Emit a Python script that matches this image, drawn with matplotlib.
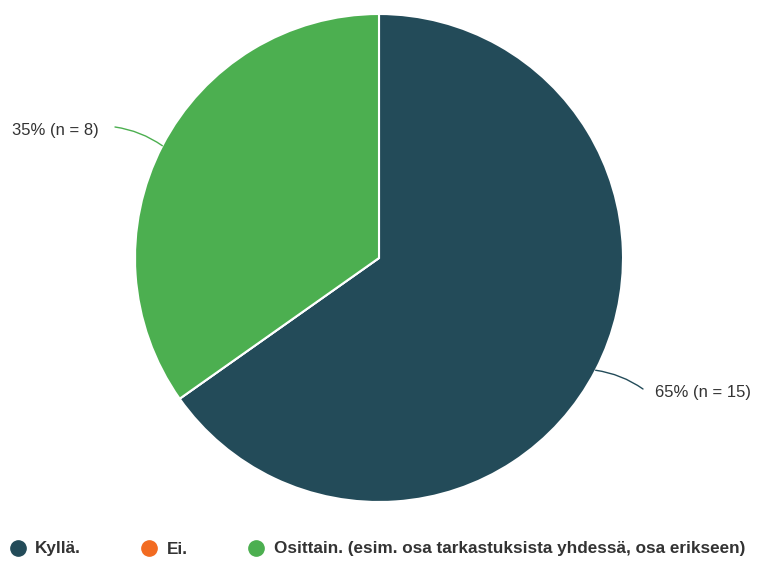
import numpy as np
import matplotlib.pyplot as plt
from matplotlib.lines import Line2D

categories = ["Kyllä.", "Ei.", "Osittain. (esim. osa tarkastuksista yhdessä, osa erikseen)"]
counts = [15, 0, 8]
colors = ["#234b59", "#f26b21", "#4caf50"]

W, H = 757, 562
fig = plt.figure(figsize=(W / 100, H / 100), dpi=100)
plt.rcParams["font.family"] = ["Liberation Sans", "DejaVu Sans"]

# pie area in pixels: centre (379, 258), radius 244
cx, cy, r = 379, 258, 244
ax = fig.add_axes([(cx - r) / W, (H - cy - r) / H, 2 * r / W, 2 * r / H])
ax.pie(counts, colors=colors, startangle=90, counterclock=False,
       wedgeprops=dict(edgecolor="white", linewidth=1.5))
ax.set_xlim(-1, 1)
ax.set_ylim(-1, 1)
ax.set_aspect("equal")
ax.axis("off")

total = sum(counts)
start = 90.0
for n, col in zip(counts, colors):
    sweep = 360.0 * n / total
    if n > 0:
        mid = np.deg2rad(start - sweep / 2)
        ex, ey = np.cos(mid), np.sin(mid)
        side = 1 if ex > 0 else -1
        tx, ty = side * 1.082, 1.167 * ey
        ax.annotate("", xy=(ex, ey), xytext=(tx, ty),
                    arrowprops=dict(arrowstyle="-", color=col, lw=1,
                                    connectionstyle="arc3,rad=%.2f" % (0.12 * side),
                                    shrinkA=0, shrinkB=0),
                    annotation_clip=False)
        pct = round(100 * n / total)
        gap = 0.065 if side < 0 else 0.05
        ax.text(tx + side * gap, ty - 0.014, f"{pct}% (n = {n})", fontsize=12,
                color="#333333", ha="left" if side > 0 else "right", va="center",
                clip_on=False)
    start -= sweep

handles = [Line2D([], [], marker="o", linestyle="", markersize=11,
                  markerfacecolor=c, markeredgecolor=c) for c in colors]
leg = fig.legend(handles, categories, loc="center left",
                 bbox_to_anchor=(11 / W, (H - 549) / H), ncol=3, frameon=False,
                 handlelength=0.8, handletextpad=0.62, columnspacing=3.6,
                 borderaxespad=0, borderpad=0,
                 prop=dict(size=12.3, weight="bold"))
for t in leg.get_texts():
    t.set_color("#333333")

fig.savefig("out.png", dpi=100)
